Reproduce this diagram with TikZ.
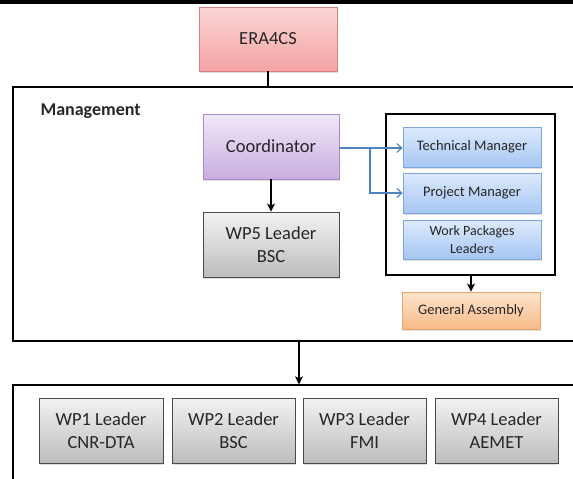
\documentclass[tikz,border=0pt]{standalone}
\usepackage{fontspec}
\setmainfont{Carlito}
\usetikzlibrary{arrows.meta,shadows}
\definecolor{pinkT}{HTML}{FBD6D6}
\definecolor{pinkB}{HTML}{F4A3A3}
\definecolor{pinkD}{HTML}{D98080}
\definecolor{purT}{HTML}{F0E8F8}
\definecolor{purB}{HTML}{C8AEDF}
\definecolor{purD}{HTML}{A88CC6}
\definecolor{grT}{HTML}{F2F2F2}
\definecolor{grB}{HTML}{BDBDBD}
\definecolor{grD}{HTML}{4A4A4A}
\definecolor{blT}{HTML}{DDEAFC}
\definecolor{blB}{HTML}{A6C6F4}
\definecolor{blD}{HTML}{7EA6D9}
\definecolor{orT}{HTML}{FDE5CE}
\definecolor{orB}{HTML}{F9BA88}
\definecolor{orD}{HTML}{EFA466}
\definecolor{arrBlue}{HTML}{4F81BD}
\definecolor{txt}{HTML}{262626}
\tikzset{
  bx/.style={draw, line width=0.8pt, align=center, inner sep=0pt, text=txt,
    drop shadow={opacity=0.25, shadow xshift=1pt, shadow yshift=-1.5pt}},
  bigtxt/.style={font=\fontsize{18.5}{23}\selectfont},
  smtxt/.style={font=\fontsize{14.5}{18}\selectfont},
  pinkbox/.style={bx, bigtxt, draw=pinkD, top color=pinkT, bottom color=pinkB},
  purbox/.style={bx, bigtxt, draw=purD, top color=purT, bottom color=purB},
  graybox/.style={bx, bigtxt, draw=grD, top color=grT, bottom color=grB},
  bluebox/.style={bx, smtxt, draw=blD, top color=blT, bottom color=blB},
  orbox/.style={bx, smtxt, draw=orD, top color=orT, bottom color=orB},
  frame/.style={draw, inner sep=0pt},
  blk/.style={line width=1.2pt, -{Stealth[length=8pt,width=8pt,inset=2pt]}},
  blu/.style={draw=arrBlue, line width=1.1pt, -{Straight Barb[length=5pt,width=9pt]}},
}
\begin{document}
\begin{tikzpicture}[x=1pt,y=-1pt]
\useasboundingbox (0,0) rectangle (573,479);
\fill[white] (0,0) rectangle (573,479);
\draw[line width=4pt] (0,2) -- (573,2);

% frames
\node[frame, line width=1.6pt, minimum width=587pt, minimum height=254pt] (mgmt) at (306.5,214) {};
\node[frame, line width=1.3pt, minimum width=587pt, minimum height=115pt] (wpframe) at (306.5,442.5) {};
\node[anchor=base west, text=txt, font=\bfseries\fontsize{18}{20}\selectfont] (mlabel) at (37,115) {Management};
\node[frame, line width=2pt, minimum width=169pt, minimum height=161pt] (inner) at (470.5,194.5) {};

% boxes
\node[pinkbox, minimum width=138pt, minimum height=64pt] (era) at (268,39) {ERA4CS};
\node[purbox, minimum width=136pt, minimum height=65pt] (coord) at (271,146.5) {Coordinator};
\node[graybox, minimum width=136pt, minimum height=65pt] (wp5) at (271,244.5) {WP5 Leader\\BSC};
\node[bluebox, minimum width=138pt, minimum height=40pt] (tm) at (472,147) {Technical Manager};
\node[bluebox, minimum width=138pt, minimum height=40pt] (pm) at (472,193) {Project Manager};
\node[bluebox, minimum width=138pt, minimum height=39pt, font=\fontsize{14}{18}\selectfont] (wpl) at (472,239.5) {Work Packages\\Leaders};
\node[orbox, minimum width=138pt, minimum height=37pt] (ga) at (471,310.5) {General Assembly};

\node[graybox, minimum width=124pt, minimum height=65pt] (wp1) at (101,430.5) {WP1 Leader\\CNR-DTA};
\node[graybox, minimum width=123pt, minimum height=65pt] (wp2) at (233.5,430.5) {WP2 Leader\\BSC};
\node[graybox, minimum width=123pt, minimum height=65pt] (wp3) at (364.5,430.5) {WP3 Leader\\FMI};
\node[graybox, minimum width=123pt, minimum height=65pt] (wp4) at (496.5,430.5) {WP4 Leader\\AEMET};

% connectors
\draw[line width=1.2pt] (era.south) -- (era.south |- mgmt.north);
\draw[blk] (coord.south) -- (wp5.north);
\coordinate (br) at (370,148);
\draw[blu] (coord.east |- br) -- (tm.west |- br);
\draw[blu] (br) |- (pm.west);
\draw[blk] (ga.north |- inner.south) -- (ga.north);
\coordinate (mdown) at (299,341);
\draw[blk] (mdown) -- (mdown |- wpframe.north);
\end{tikzpicture}
\end{document}
